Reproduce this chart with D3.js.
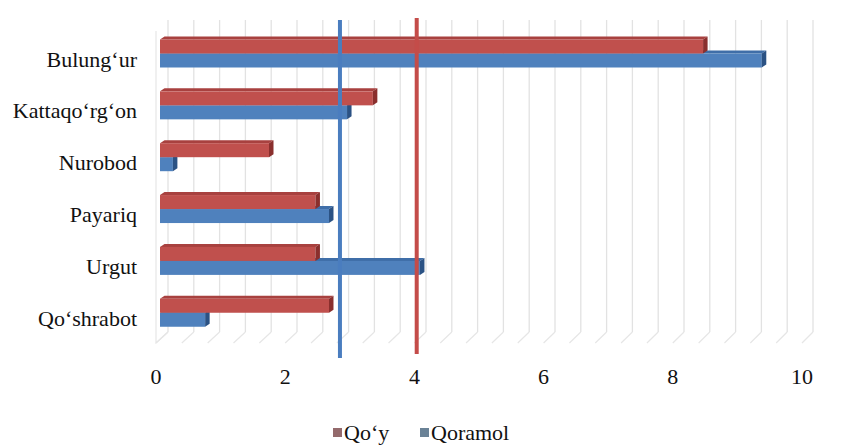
<!DOCTYPE html>
<html>
<head>
<meta charset="utf-8">
<script src="https://cdn.jsdelivr.net/npm/d3@7"></script>
<style>
  html, body { margin: 0; padding: 0; background: #fff; }
</style>
</head>
<body>
<svg id="chart" width="860" height="447"></svg>
<script>
// Livestock by district (two series) and the two reference levels
const categories = ["Bulungʻur", "Kattaqoʻrgʻon", "Nurobod", "Payariq", "Urgut", "Qoʻshrabot"];
const qoyValues = [8.42, 3.30, 1.69, 2.41, 2.41, 2.62];
const qoramolValues = [9.33, 2.90, 0.20, 2.62, 4.03, 0.70];
const seriesNames = ["Qoʻy", "Qoramol"];
const refQoramol = 2.79;
const refQoy = 3.98;
const xTicks = [0, 2, 4, 6, 8, 10];
const gridStep = 0.4;

const FONT = '"Liberation Serif"';

const colors = {
  qoy:     { front: "#c0504d", top: "#a8413f", side: "#8a2f2d", key: "#946a6c" },
  qoramol: { front: "#4f81bd", top: "#3f6ea8", side: "#2b5284", key: "#6a8296" }
};

const svg = d3.select("#chart");

// oblique 3D projection: back wall, bar face plane, front floor edge
const xBack  = d3.scaleLinear().domain([0, 10]).range([168, 813]);
const xBar   = d3.scaleLinear().domain([0, 10]).range([160, 805]);
const xFront = d3.scaleLinear().domain([0, 10]).range([156, 802]);
const y = d3.scalePoint().domain(categories).range([53.5, 312.75]);
const barH = y.step() * 0.27;
const depthX = 4.5, depthY = 3;
const wallTop = 20, wallBottom = 332, floorFront = 343;

// back-wall gridlines and floor lines
const gridVals = d3.range(0, 10 + 1e-9, gridStep).map(v => +v.toFixed(2));
const grid = svg.append("g");
grid.selectAll("line.wall").data(gridVals).join("line")
  .attr("x1", d => xBack(d)).attr("x2", d => xBack(d))
  .attr("y1", wallTop).attr("y2", wallBottom)
  .attr("stroke", "#e2e2e2").attr("stroke-width", 1.3);
grid.selectAll("line.floor").data(gridVals).join("line")
  .attr("x1", d => xBack(d)).attr("y1", wallBottom)
  .attr("x2", d => xFront(d)).attr("y2", floorFront)
  .attr("stroke", "#e6e6e6").attr("stroke-width", 1.2);
// left wall edge
grid.append("path")
  .attr("d", `M${xFront(0)},${wallTop + 11}L${xFront(0)},${floorFront}L${xBack(0)},${wallBottom}`)
  .attr("fill", "none").attr("stroke", "#e6e6e6").attr("stroke-width", 1.2);

// one 3D bar: front face, top face, right side face
function bar3d(g, x1, top, c) {
  const x0 = xBar(0);
  g.append("path")
    .attr("d", `M${x0},${top}L${x1},${top}L${x1 + depthX},${top - depthY}L${x0 + depthX},${top - depthY}Z`)
    .attr("fill", c.top);
  g.append("rect")
    .attr("x", x0).attr("y", top).attr("width", x1 - x0).attr("height", barH)
    .attr("fill", c.front);
  g.append("path")
    .attr("d", `M${x1},${top}L${x1 + depthX},${top - depthY}L${x1 + depthX},${top + barH - depthY}L${x1},${top + barH}Z`)
    .attr("fill", c.side);
}

const bars = svg.append("g");
categories.forEach((cat, i) => {
  const g = bars.append("g");
  bar3d(g, xBar(qoramolValues[i]), y(cat), colors.qoramol);
  bar3d(g, xBar(qoyValues[i]), y(cat) - barH, colors.qoy);
});

// reference lines
svg.append("line")
  .attr("x1", xBar(refQoramol)).attr("x2", xBar(refQoramol))
  .attr("y1", 20).attr("y2", 358)
  .attr("stroke", "#4a7dbf").attr("stroke-width", 4);
svg.append("line")
  .attr("x1", xBar(refQoy)).attr("x2", xBar(refQoy))
  .attr("y1", 18).attr("y2", 354)
  .attr("stroke", "#c44c49").attr("stroke-width", 4);

// category labels
svg.append("g").selectAll("text").data(categories).join("text")
  .attr("x", 137).attr("y", d => y(d) + 13)
  .attr("text-anchor", "end")
  .attr("font-size", 22).attr("fill", "#111")
  .style("font-family", FONT)
  .text(d => d);

// value axis labels
svg.append("g").selectAll("text").data(xTicks).join("text")
  .attr("x", d => xFront(d)).attr("y", 384)
  .attr("text-anchor", "middle")
  .attr("font-size", 22).attr("fill", "#111")
  .style("font-family", FONT)
  .text(d => d);

// legend
const legend = svg.append("g");
const legendItems = [
  { name: seriesNames[0], color: colors.qoy.key, x: 333 },
  { name: seriesNames[1], color: colors.qoramol.key, x: 420 }
];
legendItems.forEach(it => {
  legend.append("rect").attr("x", it.x).attr("y", 428).attr("width", 9).attr("height", 9)
    .attr("fill", it.color);
  legend.append("text").attr("x", it.x + 11).attr("y", 440)
    .attr("font-size", 22).attr("fill", "#111")
    .style("font-family", FONT)
    .text(it.name);
});
</script>
</body>
</html>
